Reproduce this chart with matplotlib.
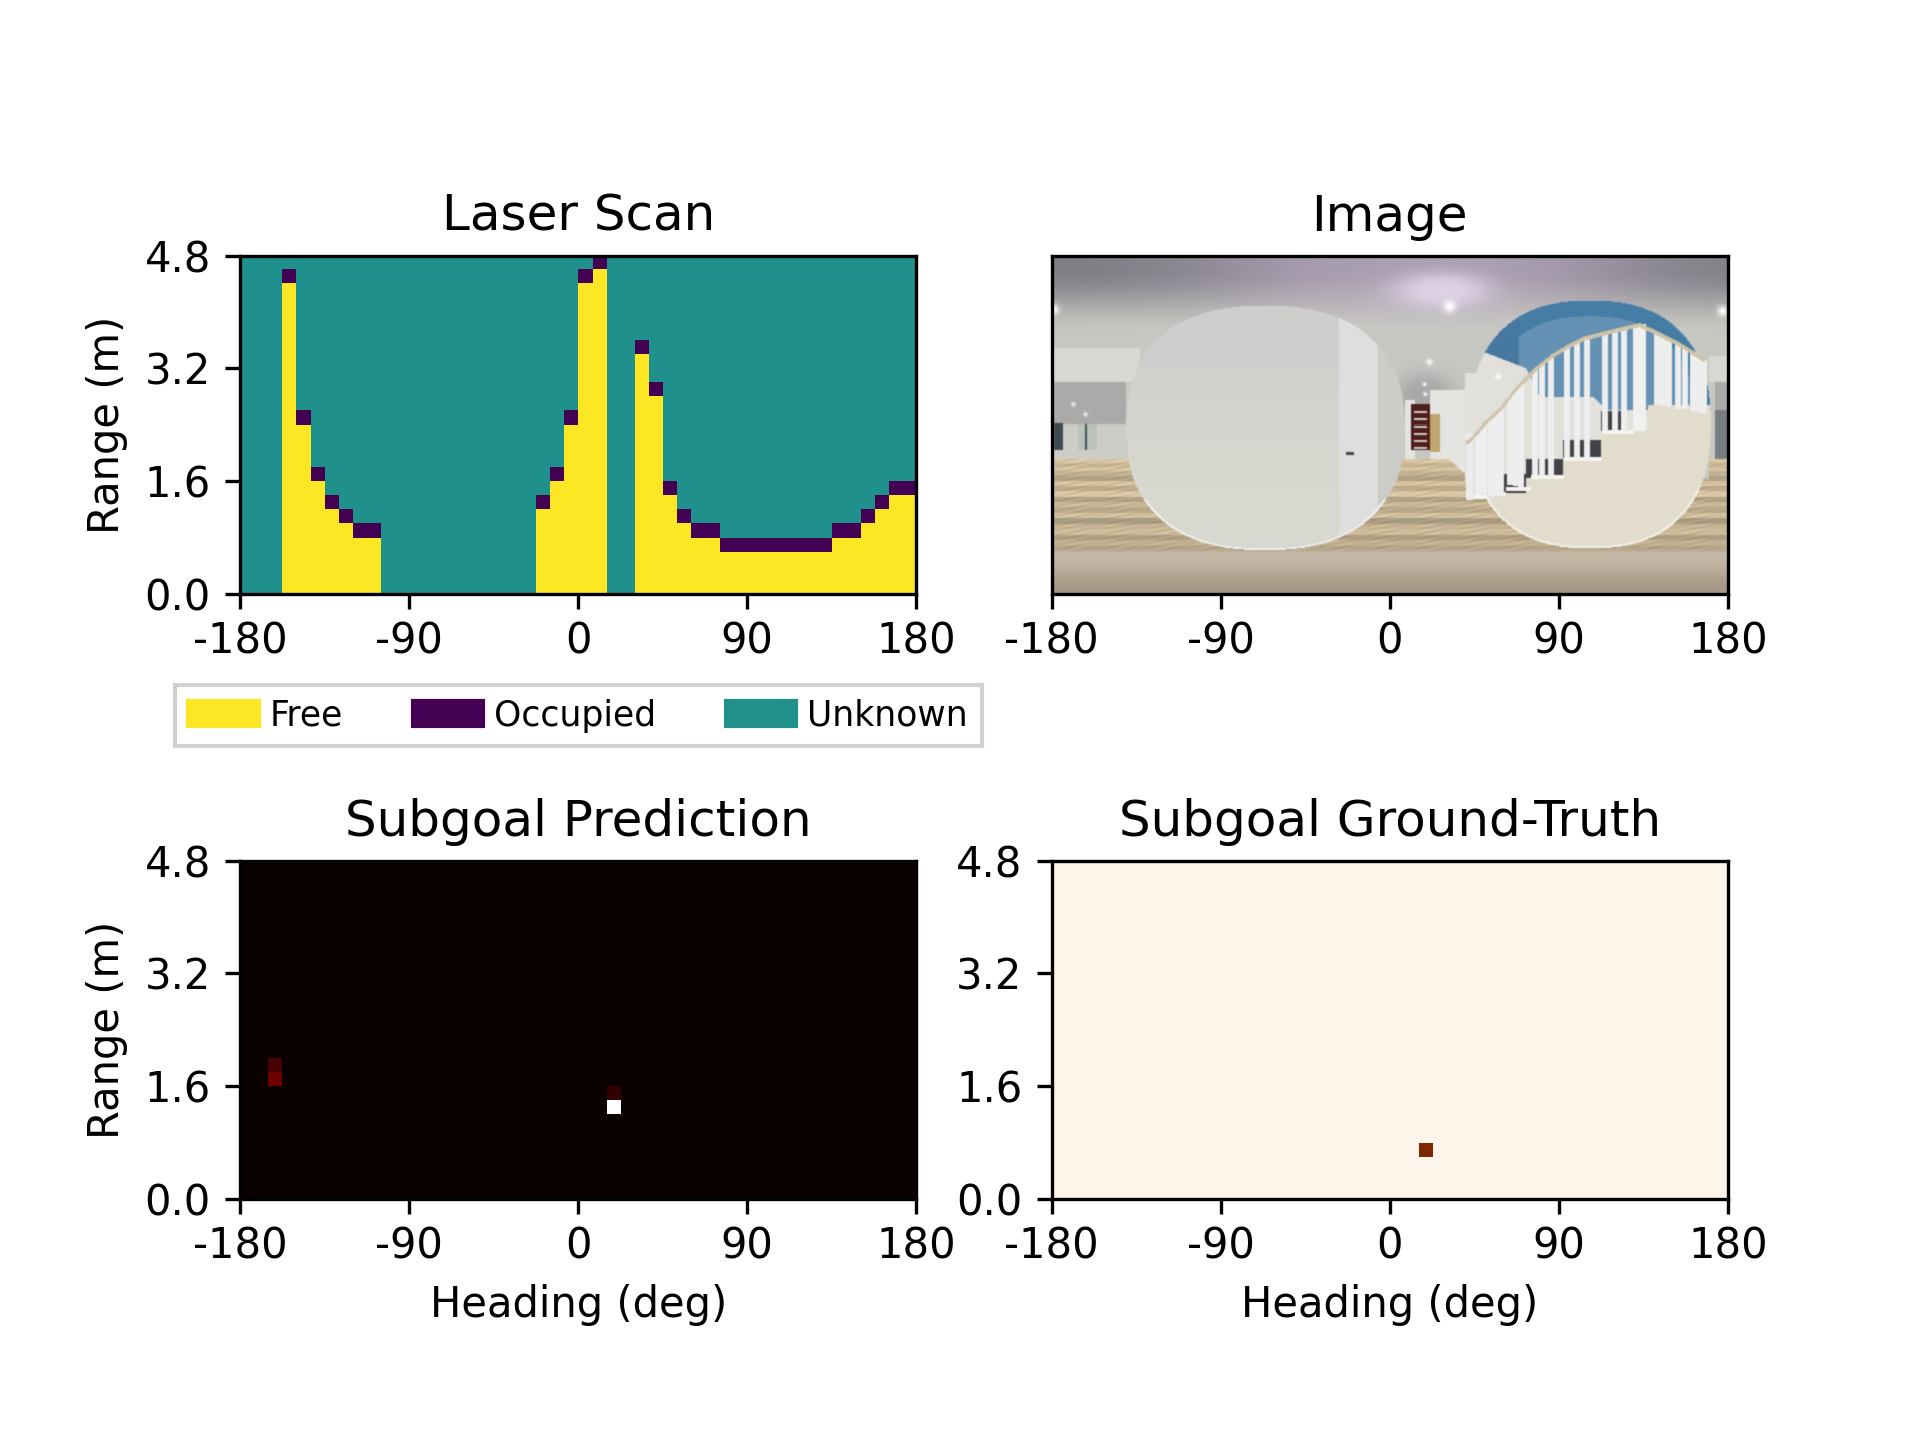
import numpy as np
import matplotlib
matplotlib.use("Agg")
import matplotlib.pyplot as plt
from matplotlib.patches import Patch

# ---------- data ----------
heading_ticks = [-180, -90, 0, 90, 180]
range_ticks = [0.0, 1.6, 3.2, 4.8]
n_heading = 48
n_range = 24
legend_labels = ["Free", "Occupied", "Unknown"]

# laser scan: heading bin -> range bin of the occupied cell
scan_columns = [3, 4, 5, 6, 7, 8, 9,
                21, 22, 23, 24, 25,
                28, 29, 30, 31, 32, 33,
                34, 35, 36, 37, 38, 39, 40, 41,
                42, 43, 44, 45, 46, 47]
scan_hits = [22, 12, 8, 6, 5, 4, 4,
             6, 8, 12, 22, 23,
             17, 14, 7, 5, 4, 4,
             3, 3, 3, 3, 3, 3, 3, 3,
             4, 4, 5, 6, 7, 7]

# subgoal prediction: (heading bin, range bin, value)
pred_cols = [2, 2, 26, 26]
pred_rows = [8, 9, 6, 7]
pred_vals = [0.15, 0.09, 1.0, 0.06]

# subgoal ground truth
gt_cols = [26]
gt_rows = [3]
gt_vals = [1.0]

# approximation of the panorama photo (read from crops of the reference)
plank_tones = [1.1, 1.0, 1.08, 0.98, 0.9, 1.08, 0.95, 1.1, 0.9, 1.02, 0.94, 1.06, 0.86, 1.0,
               1.04, 0.88, 0.98, 0.9]
step_u = [0.62, 0.655, 0.70, 0.755, 0.81, 0.88, 1.0]
step_v = [0.72, 0.70, 0.657, 0.598, 0.518, 0.444]
baluster_x = [58, 82, 100, 122, 135, 150, 178, 196, 212, 252, 274, 300, 350, 380, 410,
              462, 492, 520, 618, 638, 655, 682, 703, 728, 742, 760]
baluster_bottom = [590, 585, 580, 585, 590, 590, 555, 560, 565, 525, 530, 535, 475, 475, 475,
                   395, 395, 395, 320, 322, 325, 330, 332, 338, 340, 345]
rail_x = [45, 60, 100, 150, 200, 250, 300, 350, 400, 460, 520, 565, 620, 680, 760]
rail_y = [430, 420, 375, 330, 265, 215, 175, 145, 120, 105, 90, 80, 105, 135, 185]
spot_u = [0.586, 0.556, 0.549, 0.658, 0.002, 0.99, 0.031, 0.049, 0.55]
spot_v = [0.151, 0.315, 0.381, 0.358, 0.16, 0.164, 0.44, 0.47, 0.41]
spot_r = [6, 3, 2, 3, 5, 5, 2, 2, 2]


def build_photo():
    H, W = 338, 676
    yg, xg = np.mgrid[0:H, 0:W]
    u = (xg + 0.5) / W
    v = (yg + 0.5) / H
    ones = np.ones((H, W, 3))

    def col(*c):
        return np.array(c, dtype=float)

    def paint(img, mask, c):
        m = mask[..., None].astype(float)
        return img * (1 - m) + c * m

    def smooth(a, b, t):
        t = np.clip(t, 0, 1)[..., None]
        t = t * t * (3 - 2 * t)
        return a * (1 - t) + b * t

    # ceiling
    tint = np.exp(-((u - 0.55) / 0.36) ** 2)
    top = smooth(col(126, 126, 132) * ones, col(170, 158, 178) * ones, tint)
    img = smooth(top, col(200, 200, 195) * ones, (v - 0.04) / 0.2)
    glow = np.exp(-((u - 0.575) / 0.08) ** 2 - ((v - 0.105) / 0.06) ** 2)
    img = smooth(img, col(222, 208, 230) * ones, glow)
    img = smooth(img, col(168, 168, 168) * ones,
                 np.exp(-((u - 0.55) / 0.05) ** 2 - ((v - 0.42) / 0.08) ** 2))

    # walls behind
    white = col(216, 216, 210)
    img = paint(img, (v > 0.275) & (v < 0.375) & (u < 0.13), white)
    img = paint(img, (v > 0.3) & (v < 0.375) & (u > 0.97), white)
    img = paint(img, (v >= 0.375) & (v < 0.5) & (u < 0.11), col(172, 170, 168))
    img = paint(img, (v >= 0.375) & (v < 0.5) & (u > 0.98), col(172, 170, 168))
    img = paint(img, (v >= 0.5) & (v < 0.62) & (u < 0.11), col(205, 205, 200))
    img = paint(img, (v >= 0.46) & (v < 0.62) & (u > 0.98), col(120, 125, 130))
    img = paint(img, (v >= 0.43) & (v < 0.66) & (u > 0.52) & (u < 0.535), col(228, 228, 224))
    img = paint(img, (v >= 0.40) & (v < 0.66) & (u > 0.558) & (u < 0.64), col(228, 228, 224))
    img = paint(img, (v >= 0.47) & (v < 0.58) & (u > 0.558) & (u < 0.572), col(190, 165, 110))

    # planked floor
    floor = (v >= 0.6) & (v < 0.875) & ((v - 0.6) * 0.55 + 0.585 - u > 0) | \
            (v >= 0.66) & (v < 0.875)
    floor |= (v >= 0.6) & (v < 0.875) & ((u < 0.11) | (u > 0.97))
    t = np.clip((v - 0.6) / 0.275, 0, 0.9999) ** 0.9
    tones = np.array(plank_tones)[(t * len(plank_tones)).astype(int)]
    streak = 1 + 0.07 * np.sin(xg * 0.23 + yg * 1.3) * np.sin(xg * 0.071)
    base = col(198, 180, 148) * (tones * streak)[..., None]
    img = np.where(floor[..., None], base, img)

    # bottom blur of the floor
    bottom = smooth(col(197, 184, 166) * ones, col(165, 151, 131) * ones, (v - 0.88) / 0.12)
    img = smooth(img, bottom, (v - 0.86) / 0.025)

    # large wall in front on the left
    e1 = (np.abs(u - 0.315) / 0.205) ** 2.4 + (np.abs(v - 0.51) / 0.36) ** 2.4
    shade = smooth(col(206, 206, 205) * ones, col(216, 216, 208) * ones, (v - 0.2) / 0.5)
    img = np.where((e1 < 1)[..., None], shade, img)
    img = paint(img, (e1 < 1) & (u > 0.425) & (u < 0.482), col(222, 222, 222))
    img = paint(img, (e1 < 1) & (u >= 0.482), col(204, 204, 200))
    img = paint(img, (e1 >= 0.965) & (e1 < 1) & (v > 0.72), col(240, 240, 238))

    # stair enclosure
    e2 = (np.abs(u - 0.795) / 0.178) ** 2.4 + (np.abs(v - 0.5) / 0.365) ** 2.4
    blue_low = np.interp(u, [0.615, 0.70, 0.72, 0.80, 0.82, 0.98], [0.27, 0.335, 0.42, 0.42, 0.46, 0.46])
    inside = e2 < 1
    upper = inside & (v < 0.5)
    img = paint(img, upper & (v < blue_low), col(100, 145, 180))
    img = paint(img, upper & (v < blue_low) & (e2 > 0.72), col(70, 125, 165))
    img = paint(img, upper & (v < blue_low) & (u < 0.69), col(70, 120, 160))
    idx = np.clip(np.searchsorted(step_u, u, side="right") - 1, 0, len(step_v) - 1)
    step_top = np.array(step_v)[idx]
    wall_area = inside & (v >= blue_low) | ((u > 0.61) & (u < 0.9) & (v > 0.35) & (v < step_top) & (v >= blue_low) & (e2 < 1.25))
    img = paint(img, wall_area, col(226, 224, 218))
    img = paint(img, (v < step_top) & (v > step_top - 0.055) & (u > 0.655) & (u < 0.845), col(68, 66, 70))
    cream = (v >= step_top) & (e2 < 1) | (v >= step_top) & (u > 0.6) & (u < 0.97) & (v < 0.55)
    img = paint(img, cream, col(226, 220, 204))
    img = paint(img, (e2 >= 0.96) & (e2 < 1) & (v > 0.68), col(242, 240, 232))

    def px(x):
        return int(398 + x / 3)

    def py(y):
        return int(44 + y / 3)

    # step ledges
    for x0, x1, y0 in [(45, 110, 590), (115, 165, 580), (165, 240, 565), (240, 340, 530),
                       (340, 455, 475), (455, 550, 395)]:
        img[py(y0) - 1:py(y0) + 3, px(x0):px(x1)] = (244, 244, 240)
    # balusters
    for x, b in zip(baluster_x, baluster_bottom):
        tp = np.interp(x, rail_x, rail_y)
        img[py(tp):py(b), px(x) - 3:px(x) + 3] = (238, 238, 238)
    # newel posts
    img[py(75):py(395), px(548):px(585)] = (240, 240, 238)
    img[py(400):py(600), px(45):px(68)] = (236, 236, 236)
    # hand rail
    for x in range(45, 760):
        y = np.interp(x, rail_x, rail_y)
        img[py(y) - 2:py(y) + 2, px(x)] = (208, 196, 168)
    # door at the end of the hall
    img[149:194, 358:377] = (80, 30, 25)
    for y in range(156, 192, 7):
        img[y:y + 2, 361:374] = (205, 205, 205)
    # handle
    img[196:199, 294:302] = (70, 70, 72)
    # left windows
    img[169:194, 26:45] = (185, 195, 185)
    img[169:194, 33:35] = (70, 80, 85)
    img[168:194, 2:11] = (60, 75, 80)
    # light spots
    for su, sv, r in zip(spot_u, spot_v, spot_r):
        d = np.hypot(xg - su * W, yg - sv * H) / r
        a = np.clip(np.exp(-d ** 2), 0, 1)[..., None]
        img = img * (1 - a) + 255 * a
    # soften
    out = img.copy()
    for dx, dy in [(1, 0), (-1, 0), (0, 1), (0, -1)]:
        out = out + np.roll(np.roll(img, dx, axis=1), dy, axis=0)
    return np.clip(out / 5, 0, 255).astype(np.uint8)


# ---------- grids ----------
scan = np.full((n_range, n_heading), 0.5)
for c, r in zip(scan_columns, scan_hits):
    scan[:r, c] = 1.0
    scan[r, c] = 0.0
pred = np.zeros((n_range, n_heading))
pred[pred_rows, pred_cols] = pred_vals
gt = np.zeros((n_range, n_heading))
gt[gt_rows, gt_cols] = gt_vals

# ---------- figure ----------
fig, axes = plt.subplots(2, 2, figsize=(6.4, 4.8), dpi=300)
extent = [-180, 180, 0, 4.8]
aspect = 360 / 4.8 * 0.5
(ax_scan, ax_img), (ax_pred, ax_gt) = axes

ax_scan.imshow(scan, origin="lower", extent=extent, aspect=aspect, cmap="viridis",
               vmin=0, vmax=1, interpolation="nearest")
ax_img.imshow(build_photo(), extent=extent, aspect=aspect, interpolation="nearest")
ax_pred.imshow(pred, origin="lower", extent=extent, aspect=aspect, cmap="hot",
               vmin=0, vmax=1, interpolation="nearest")
ax_gt.imshow(gt, origin="lower", extent=extent, aspect=aspect, cmap="Oranges",
             vmin=0, vmax=1, interpolation="nearest")

ax_scan.set_title("Laser Scan")
ax_img.set_title("Image")
ax_pred.set_title("Subgoal Prediction")
ax_gt.set_title("Subgoal Ground-Truth")

for ax in axes.flat:
    ax.set_xticks(heading_ticks)
    ax.set_xticklabels([str(t) for t in heading_ticks])
    ax.set_yticks(range_ticks)
    ax.tick_params(axis="x", pad=3.0)
ax_img.set_yticks([])
ax_scan.set_ylabel("Range (m)")
ax_pred.set_ylabel("Range (m)")
ax_pred.set_xlabel("Heading (deg)", labelpad=3.8)
ax_gt.set_xlabel("Heading (deg)", labelpad=3.8)

vir = plt.get_cmap("viridis")
handles = [Patch(color=vir(1.0), label=legend_labels[0]),
           Patch(color=vir(0.0), label=legend_labels[1]),
           Patch(color=vir(0.5), label=legend_labels[2])]
ax_scan.legend(handles=handles, loc="upper center", bbox_to_anchor=(0.5, -0.2174),
               ncol=3, fontsize=8.3, handlelength=2.03, handleheight=0.73, handletextpad=0.33,
               columnspacing=2.0, fancybox=False, edgecolor="0.82", framealpha=1.0)

fig.savefig("out.png", dpi=300)
